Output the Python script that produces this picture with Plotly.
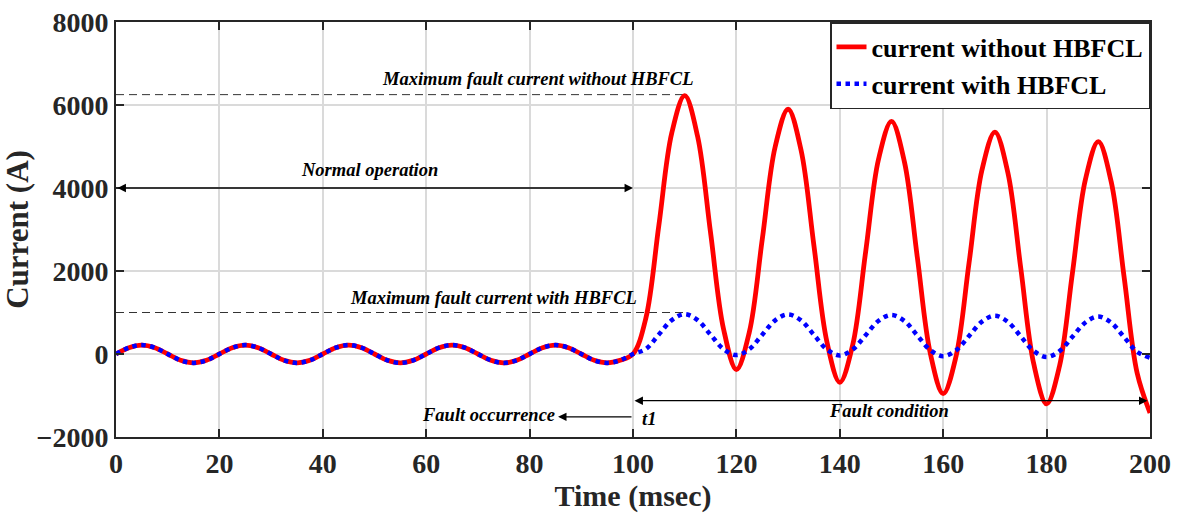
import plotly.graph_objects as go

OUTPUT_PATH = "out.html"

FONT = "Liberation Serif"
INK = "#262626"

# sample times (ms), 2.5 ms step
TIME_MS = [
    0, 2.5, 5, 7.5, 10, 12.5, 15, 17.5, 20, 22.5, 25, 27.5, 30, 32.5, 35, 37.5,
    40, 42.5, 45, 47.5, 50, 52.5, 55, 57.5, 60, 62.5, 65, 67.5, 70, 72.5, 75, 77.5,
    80, 82.5, 85, 87.5, 90, 92.5, 95, 97.5,
    100, 102.5, 105, 107.5, 110, 112.5, 115, 117.5, 120, 122.5, 125, 127.5,
    130, 132.5, 135, 137.5, 140, 142.5, 145, 147.5, 150, 152.5, 155, 157.5,
    160, 162.5, 165, 167.5, 170, 172.5, 175, 177.5, 180, 182.5, 185, 187.5,
    190, 192.5, 195, 197.5, 200,
]

# load current before the fault (0 .. 97.5 ms), same for both cases
PREFAULT_A = [
    0, 152, 215, 152, 0, -152, -215, -152,
    0, 152, 215, 152, 0, -152, -215, -152,
    0, 152, 215, 152, 0, -152, -215, -152,
    0, 152, 215, 152, 0, -152, -215, -152,
    0, 152, 215, 152, 0, -152, -215, -152,
]

# fault current (100 .. 200 ms)
FAULT_WITHOUT_A = [
    0, 870, 3098, 5327, 6225, 5240, 2925, 610, -373, 528, 2761, 4995,
    5898, 4917, 2607, 296, -682, 224, 2461, 4699, 5606, 4630, 2324, 18,
    -957, -47, 2194, 4436, 5347, 4374, 2071, -231, -1202, -289, 1956, 4201,
    5116, 4147, 1847, -452, -1420,
]
FAULT_WITH_A = [
    0, 122, 469, 816, 960, 815, 466, 118, -27, 116, 464, 811,
    954, 809, 460, 111, -34, 108, 454, 800, 942, 796, 445, 95,
    -52, 89, 435, 780, 922, 775, 425, 74, -72, 69, 415, 760,
    902, 755, 405, 54, -92,
]

SERIES_NAMES = ["current without HBFCL", "current with HBFCL"]

X_TICKS = [0, 20, 40, 60, 80, 100, 120, 140, 160, 180, 200]
Y_TICKS = [-2000, 0, 2000, 4000, 6000, 8000]

# annotation anchors (data units)
T_FAULT = 100
T_PEAK = 110
T_END = 199.5
PEAK_WITHOUT = 6250
PEAK_WITH = 1000
NORMAL_ARROW_Y = 4000
CONDITION_ARROW_Y = -1125
OCCURRENCE_ARROW_Y = -1515
OCCURRENCE_HEAD_X = 85.5


def add_arrow(fig, x0, x1, y, both=False):
    fig.add_annotation(
        x=x1, y=y, ax=x0, ay=y, xref="x", yref="y", axref="x", ayref="y",
        text="", showarrow=True, arrowhead=2, arrowsize=1.3, arrowwidth=1.3,
        arrowcolor="black", arrowside="end+start" if both else "end",
    )


def add_label(fig, x, y, text):
    fig.add_annotation(
        x=x, y=y, xref="x", yref="y", text=text, showarrow=False,
        font={"family": FONT, "size": 18.5, "color": "black",
              "style": "italic", "weight": "bold"},
    )


def build_figure() -> go.Figure:
    fig = go.Figure()
    fig.add_trace(go.Scatter(
        x=TIME_MS, y=PREFAULT_A + FAULT_WITHOUT_A, name=SERIES_NAMES[0],
        mode="lines", line={"color": "#ff0000", "width": 4.8, "shape": "spline"},
    ))
    fig.add_trace(go.Scatter(
        x=TIME_MS, y=PREFAULT_A + FAULT_WITH_A, name=SERIES_NAMES[1],
        mode="lines",
        line={"color": "#0000ff", "width": 4.5, "shape": "spline", "dash": "dot"},
    ))

    # reference dashed lines
    dashed = {"color": "#333333", "width": 1, "dash": "8px,5px"}
    fig.add_shape(type="line", x0=0, x1=T_PEAK, y0=PEAK_WITHOUT, y1=PEAK_WITHOUT,
                  line=dashed, layer="below")
    fig.add_shape(type="line", x0=0, x1=T_PEAK, y0=PEAK_WITH, y1=PEAK_WITH,
                  line=dashed, layer="below")
    fig.add_shape(type="line", x0=T_FAULT, x1=T_FAULT, y0=0, y1=Y_TICKS[0],
                  line=dashed, layer="below")

    add_arrow(fig, 0, T_FAULT, NORMAL_ARROW_Y, both=True)
    add_arrow(fig, T_FAULT, T_END, CONDITION_ARROW_Y, both=True)
    add_arrow(fig, T_FAULT, OCCURRENCE_HEAD_X, OCCURRENCE_ARROW_Y)

    add_label(fig, 81.5, 6630, "Maximum fault current without HBFCL")
    add_label(fig, 49, 4430, "Normal operation")
    add_label(fig, 73, 1350, "Maximum fault current with HBFCL")
    add_label(fig, 72, -1470, "Fault occurrence")
    add_label(fig, 103, -1570, "t1")
    add_label(fig, 149.5, -1375, "Fault condition")

    axis_common = {
        "showline": True, "linecolor": INK, "linewidth": 2, "mirror": "ticks",
        "ticks": "inside", "ticklen": 8, "tickwidth": 2, "tickcolor": INK,
        "showgrid": True, "gridcolor": "#dadada", "gridwidth": 1.5,
        "zeroline": False, "automargin": False,
        "tickfont": {"family": FONT, "size": 28, "color": INK, "weight": "bold"},
    }
    fig.update_xaxes(
        range=[0, 200], tickvals=X_TICKS, **axis_common,
        title={"text": "Time (msec)", "standoff": 5,
               "font": {"family": FONT, "size": 30, "color": INK, "weight": "bold"}},
    )
    fig.update_yaxes(
        range=[-2000, 8000], tickvals=Y_TICKS, **axis_common,
        title={"text": "Current (A)", "standoff": 4,
               "font": {"family": FONT, "size": 31, "color": INK, "weight": "bold"}},
    )
    fig.update_layout(
        width=1180, height=514,
        margin={"l": 116, "r": 30, "t": 22, "b": 77},
        plot_bgcolor="white", paper_bgcolor="white",
        legend={
            "x": 1, "y": 1, "xanchor": "right", "yanchor": "top",
            "bgcolor": "white", "bordercolor": INK, "borderwidth": 1.5,
            "font": {"family": FONT, "size": 26, "color": "black", "weight": "bold"},
            "tracegroupgap": 0, "itemwidth": 30,
        },
        showlegend=True,
    )
    return fig


def main():
    fig = build_figure()
    # drop the default 8px page margin so the figure fills the window
    fig.write_html(
        OUTPUT_PATH,
        config={"displayModeBar": False},
        post_script="document.body.style.margin = '0';",
    )


if __name__ == "__main__":
    main()
